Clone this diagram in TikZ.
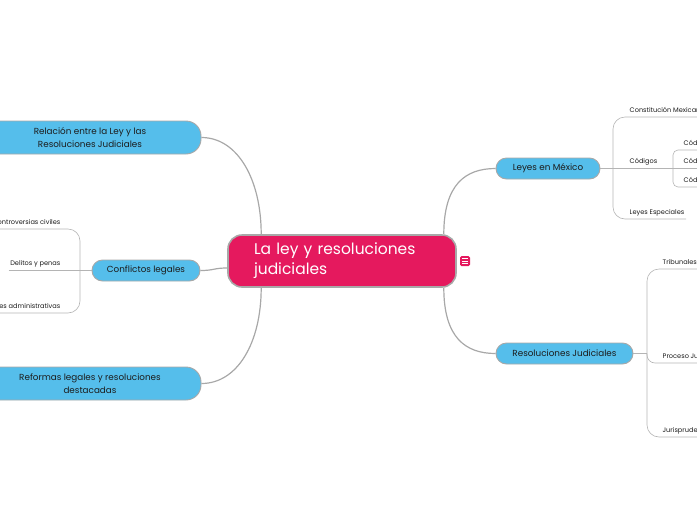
\documentclass[tikz,border=0pt]{standalone}
\usepackage{fontspec}
\setmainfont{Poppins}
\usepackage{tikz}
\usetikzlibrary{positioning}
\definecolor{rootpink}{HTML}{E5195E}
\definecolor{topicblue}{HTML}{55BEEB}
\definecolor{edgegray}{HTML}{A8A8A8}
\definecolor{leafgray}{HTML}{B4B4B4}
\definecolor{textdark}{HTML}{1C1C1C}

\begin{document}
\begin{tikzpicture}[x=1pt, y=-1pt,
    rootnode/.style={draw=edgegray, line width=1.6pt, fill=rootpink, rounded corners=14pt,
        text=white, font=\fontsize{15.5}{20}\selectfont, align=left, text width=176pt,
        inner xsep=26pt, minimum height=52pt},
    topic/.style={draw=edgegray, line width=0.9pt, fill=topicblue, rounded corners=10.5pt,
        text=textdark, font=\fontsize{8.8}{13}\selectfont, align=center, minimum height=21pt, inner sep=2pt},
    bigtopic/.style={topic, rounded corners=15pt, minimum height=33pt},
    leaf/.style={text=textdark, font=\fontsize{6.6}{7}\selectfont, inner xsep=1.5pt, inner ysep=4.5pt, text depth=0pt},
    link/.style={draw=edgegray, line width=1.2pt},
    sublink/.style={draw=leafgray, line width=0.6pt, rounded corners=12pt}]
        \useasboundingbox (0,0) rectangle (697,520);
        \clip (0,0) rectangle (697,520);

        % Nodes
        \node[rootnode] (root) at (342,261) {La ley y resoluciones\\judiciales};
        \node[fill=rootpink, rounded corners=1.5pt, minimum size=10pt, inner sep=0pt] (note) at (465,261) {};
        \foreach \dy in {-2.5,0,2.5}
            \draw[white, line width=0.8pt] ([xshift=-2.6pt, yshift=\dy pt]note.center) -- ++(5.2,0);

        \node[bigtopic, minimum width=222pt] (rel) at (90,137.5) {Relación entre la Ley y las\\ Resoluciones Judiciales};
        \node[topic, minimum width=108pt] (conf) at (146,270.5) {Conflictos legales};
        \node[bigtopic, minimum width=222pt] (ref) at (90,383.5) {Reformas legales y resoluciones\\destacadas};
        \node[topic, minimum width=104pt] (lm) at (548,168.5) {Leyes en México};
        \node[topic, minimum width=137pt] (rj) at (564.5,353.5) {Resoluciones Judiciales};

        % Leaves
        \node[leaf, anchor=south east] (cc) at (62,229) {Controversias civiles};
        \node[leaf, anchor=south east] (dp) at (62,270.5) {Delitos y penas};
        \node[leaf, anchor=south east] (sa) at (62,313) {Sanciones administrativas};
        \coordinate (cfork) at (80,270.5);

        \node[leaf, anchor=south west] (cm) at (628,117) {Constitución Mexicana};
        \node[leaf, anchor=south west] (cod) at (628,168.5) {Códigos};
        \node[leaf, anchor=south west] (le) at (628,219) {Leyes Especiales};
        \coordinate (lmfork) at (613,168.5);
        \coordinate (codfork) at (673,168.5);
        \node[leaf, anchor=south west] (c1) at (682,150) {Código Civil};
        \node[leaf, anchor=south west] (c2) at (682,168.5) {Código Penal};
        \node[leaf, anchor=south west] (c3) at (682,187) {Código de Comercio};

        \node[leaf, anchor=south west] (tr) at (661,269) {Tribunales};
        \node[leaf, anchor=south west] (pj) at (661,363) {Proceso Judicial};
        \node[leaf, anchor=south west] (ju) at (661,437) {Jurisprudencia};
        \coordinate (rjfork) at (647,353.5);

        % Main branches
        \draw[link] ([xshift=34pt]root.north west) .. controls +(0,-55) and +(36,0) .. (rel.east);
        \draw[link] ([yshift=-7pt]root.west) .. controls +(-14,0) and +(14,0) .. (conf.east);
        \draw[link] ([xshift=34pt]root.south west) .. controls +(0,55) and +(36,0) .. (ref.east);
        \draw[link] ([xshift=-13pt]root.north east) .. controls +(0,-50) and +(-30,0) .. (lm.west);
        \draw[link] ([xshift=-13pt]root.south east) .. controls +(0,50) and +(-30,0) .. (rj.west);

        % Sub branches
        \draw[sublink] (cc.south west) -- (cc.south east -| cfork) -- (sa.south east -| cfork) -- (sa.south west);
        \draw[sublink] (dp.south west) -- (conf.west);

        \draw[sublink] (cm.south east) -- (cm.south west -| lmfork) -- (le.south west -| lmfork) -- (le.south east);
        \draw[sublink] (lm.east) -- (codfork);
        \draw[sublink, rounded corners=5pt] (c1.south east) -- (c1.south west -| codfork) -- (c3.south west -| codfork) -- (c3.south east);
        \draw[sublink] (codfork) -- (c2.south east);

        \draw[sublink] (tr.south east) -- (tr.south west -| rjfork) -- (ju.south west -| rjfork) -- (ju.south east);
        \draw[sublink] (rj.east) -- (rjfork);
        \draw[sublink, rounded corners=8pt] (pj.south east) -- (pj.south west -| rjfork) -- (rjfork);
\end{tikzpicture}
\end{document}
